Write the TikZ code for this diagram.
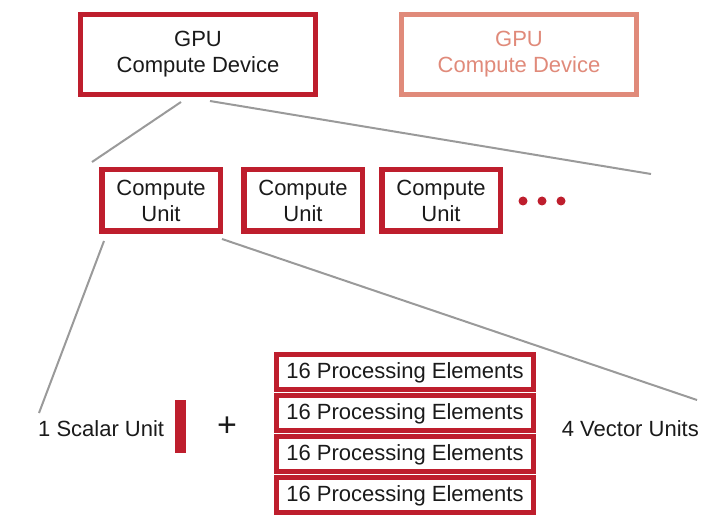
\documentclass[tikz,border=0pt]{standalone}
\usepackage{fontspec}
\setmainfont{Liberation Sans}
\usepackage{tikz}
\usetikzlibrary{positioning}
\definecolor{GPU_Red}{HTML}{BE1E2D}
\definecolor{GPU_Salmon}{HTML}{E08A7A}
\definecolor{GPU_Gray}{HTML}{9A9A9A}
\definecolor{GPU_Ink}{HTML}{1A1A1A}

\tikzset{
    devbox/.style={draw=GPU_Red, line width=5pt, minimum width=235pt, minimum height=80pt,
        align=center, text=GPU_Ink, inner sep=0pt},
    cubox/.style={draw=GPU_Red, line width=5.5pt, minimum width=118.5pt, minimum height=61.5pt,
        align=center, text=GPU_Ink, inner sep=0pt},
    pebox/.style={draw=GPU_Red, line width=5pt, minimum width=257pt, minimum height=35pt,
        text=GPU_Ink, inner sep=0pt, text depth=2pt},
    link/.style={GPU_Gray, line width=2pt},
    label/.style={text=GPU_Ink, inner sep=0pt}
}

\begin{document}
\begin{tikzpicture}[x=1pt, y=-1pt, font=\fontsize{22}{26}\selectfont]
    \useasboundingbox (0,0) rectangle (705,524);

    % Compute devices
    \node[devbox] (gpu) at (198,54.5) {GPU\\Compute Device};
    \node[devbox, draw=GPU_Salmon, text=GPU_Salmon] (gpuB) at (519,54.5) {GPU\\Compute Device};

    % Compute units
    \node[cubox] (cuA) at (161,200.5) {Compute\\Unit};
    \node[cubox] (cuB) at (303,200.5) {Compute\\Unit};
    \node[cubox] (cuC) at (441,200.5) {Compute\\Unit};
    \foreach \i/\x in {1/523,2/542,3/561}
        \fill[GPU_Red] (\x,201) circle (4.5pt) coordinate (dot\i);

    % Fan out from the device to its units
    \coordinate (gpuL) at (181,102);
    \coordinate (gpuR) at (210,101);
    \coordinate (cuL) at (92,162);
    \coordinate (cuR) at (651,174);
    \draw[link] (gpuL) -- (cuL);
    \draw[link] (gpuR) -- (cuR);

    % Inside one compute unit
    \node[label, anchor=west] (scalar) at (38,429) {1 Scalar Unit};
    \fill[GPU_Red] (175,400) rectangle (186,453);
    \node[label, font=\fontsize{34}{38}\selectfont] (plus) at (227,427) {+};
    \foreach \i/\y in {1/372,2/413,3/454,4/495}
        \node[pebox] (pe\i) at (405,\y) {16 Processing Elements};
    \node[label, anchor=east] (vector) at (699,429) {4 Vector Units};

    % Fan out from the unit to its parts
    \coordinate (unitL) at (104,241);
    \coordinate (unitR) at (222,239);
    \coordinate (partL) at (39,413);
    \coordinate (partR) at (697,400);
    \draw[link] (unitL) -- (partL);
    \draw[link] (unitR) -- (partR);

\end{tikzpicture}
\end{document}
